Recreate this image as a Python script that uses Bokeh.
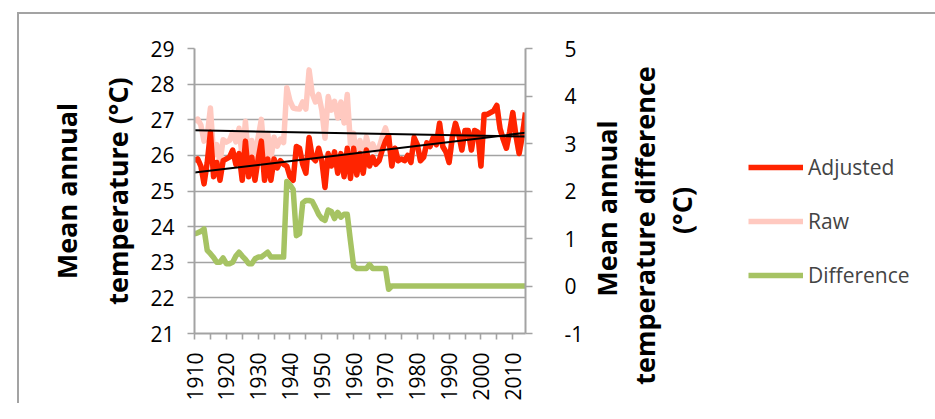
import math
import numpy as np
from bokeh.plotting import figure
from bokeh.layouts import row
from bokeh.models import Range1d, LinearAxis, FixedTicker, Legend, LegendItem
from bokeh.core.properties import value
from bokeh.embed import file_html
from bokeh.resources import INLINE

years = list(range(1910, 2015))

adjusted = [
    25.85, 25.9, 25.7, 25.2, 25.8, 26.65, 25.4, 25.8, 25.3, 25.85,
    25.9, 25.95, 26.15, 25.75, 26.05, 25.3, 26.4, 25.4, 25.95, 25.3,
    25.9, 26.4, 25.3, 25.9, 25.3, 25.9, 25.65, 25.85, 25.75, 25.7,
    25.4, 25.3, 26.25, 26.2, 25.75, 25.5, 26.5, 25.95, 25.85, 26.2,
    25.85, 25.1, 26.05, 25.7, 26.1, 25.5, 26.05, 25.4, 26.2, 25.35,
    26.2, 25.45, 26.05, 25.5, 26.15, 25.7, 25.95, 25.75, 25.85, 26.15,
    26.4, 26.55, 25.7, 26.2, 25.85, 25.9, 25.85, 26.0, 25.8, 26.5,
    26.3, 25.85, 25.95, 26.35, 26.25, 26.5, 26.3, 26.9, 26.25, 26.1,
    25.8, 26.5, 26.9, 26.6, 26.15, 26.7, 26.7, 26.15, 26.7, 26.65,
    25.7, 27.15, 27.15, 27.2, 27.25, 27.4, 26.75, 26.45, 26.2, 26.65,
    27.2, 26.55, 26.05, 26.55, 27.2,
]

raw = [
    26.95, 27.02, 26.85, 26.4, 26.55, 27.33, 26.0, 26.3, 25.8, 26.44,
    26.37, 26.42, 26.65, 26.38, 26.76, 25.93, 26.96, 25.87, 26.42, 25.87,
    26.51, 27.01, 25.96, 26.61, 25.91, 26.51, 26.26, 26.46, 26.36, 27.9,
    27.53, 27.33, 27.31, 27.3, 27.5, 27.3, 28.4, 27.73, 27.5, 27.71,
    27.27, 26.48, 27.65, 27.27, 27.52, 27.05, 27.5, 26.91, 27.71, 26.3,
    26.62, 25.82, 26.42, 25.87, 26.52, 26.15, 26.32, 26.12, 26.22, 26.52,
    26.77, 26.48, 25.7, 26.2, 25.85, 25.9, 25.85, 26.0, 25.8, 26.5,
    26.3, 25.85, 25.95, 26.35, 26.25, 26.5, 26.3, 26.9, 26.25, 26.1,
    25.8, 26.5, 26.9, 26.6, 26.15, 26.7, 26.7, 26.15, 26.7, 26.65,
    25.7, 27.15, 27.15, 27.2, 27.25, 27.4, 26.75, 26.45, 26.2, 26.65,
    27.2, 26.55, 26.05, 26.55, 27.2,
]

difference = [
    1.10, 1.12, 1.15, 1.20, 0.75, 0.68, 0.60, 0.50, 0.50, 0.59,
    0.47, 0.47, 0.50, 0.63, 0.71, 0.63, 0.56, 0.47, 0.47, 0.57,
    0.61, 0.61, 0.66, 0.71, 0.61, 0.61, 0.61, 0.61, 0.61, 2.20,
    2.13, 2.03, 1.06, 1.10, 1.75, 1.80, 1.80, 1.78, 1.65, 1.51,
    1.42, 1.38, 1.60, 1.57, 1.42, 1.55, 1.45, 1.51, 1.51, 0.95,
    0.42, 0.37, 0.37, 0.37, 0.37, 0.45, 0.37, 0.37, 0.37, 0.37,
    0.37, -0.07, 0.0, 0.0, 0.0, 0.0, 0.0, 0.0, 0.0, 0.0,
    0.0, 0.0, 0.0, 0.0, 0.0, 0.0, 0.0, 0.0, 0.0, 0.0,
    0.0, 0.0, 0.0, 0.0, 0.0, 0.0, 0.0, 0.0, 0.0, 0.0,
    0.0, 0.0, 0.0, 0.0, 0.0, 0.0, 0.0, 0.0, 0.0, 0.0,
    0.0, 0.0, 0.0, 0.0, 0.0,
]

x_label_years = [1910, 1920, 1930, 1940, 1950, 1960, 1970, 1980, 1990, 2000, 2010]
x_minor_years = [1915, 1925, 1935, 1945, 1955, 1965, 1975, 1985, 1995, 2005]
left_ticks = [21, 22, 23, 24, 25, 26, 27, 28, 29]
right_ticks = [-1, 0, 1, 2, 3, 4, 5]

series_names = ["Adjusted", "Raw", "Difference"]
left_title = "Mean annual\ntemperature (°C)"
right_title_lines = ["Mean annual", "temperature difference", "(°C)"]

FONT = "Open Sans"
GRID = "#A3A3A3"
RED = "#FF2400"
PINK = "#FFC9C0"
GREEN = "#A6C363"
LW = 5.5

# ---------------- main chart ----------------
p = figure(width=567, height=389, output_backend="svg", toolbar_location=None,
           x_range=Range1d(years[0], years[-1]), y_range=Range1d(left_ticks[0], left_ticks[-1]),
           min_border_left=175, min_border_right=59, min_border_top=34, min_border_bottom=67)
p.outline_line_color = None
p.background_fill_color = "white"
p.border_fill_color = "white"
p.extra_y_ranges = {"diff": Range1d(right_ticks[0], right_ticks[-1])}

p.xgrid.visible = False
p.ygrid.ticker = FixedTicker(ticks=left_ticks)
p.ygrid.grid_line_color = GRID
p.ygrid.grid_line_width = 1.6

r_raw = p.line(years, raw, line_color=PINK, line_width=LW, line_join="round")
r_adj = p.line(years, adjusted, line_color=RED, line_width=LW, line_join="round")
r_diff = p.line(years, difference, line_color=GREEN, line_width=LW, line_join="round",
                y_range_name="diff")

yrs = np.array(years, dtype=float)
ends = np.array([years[0], years[-1]], dtype=float)
ca = np.polyfit(yrs, np.array(adjusted), 1)
cr = np.polyfit(yrs, np.array(raw), 1)
p.line(ends, np.polyval(ca, ends), line_color="black", line_width=2)
p.line(ends, np.polyval(cr, ends), line_color="black", line_width=2)


def style_axis(ax):
    ax.axis_line_color = GRID
    ax.axis_line_width = 2
    ax.major_tick_line_color = GRID
    ax.major_tick_line_width = 1.6
    ax.major_tick_in = 0
    ax.major_tick_out = 7
    ax.minor_tick_line_color = None
    ax.major_label_text_font = FONT
    ax.major_label_text_font_size = "21px"
    ax.major_label_text_color = "black"
    ax.axis_label_text_font = FONT
    ax.axis_label_text_font_size = "27px"
    ax.axis_label_text_font_style = "bold"
    ax.axis_label_text_color = "black"
    ax.axis_label_text_line_height = 1.4


xa = p.xaxis[0]
style_axis(xa)
xa.ticker = FixedTicker(ticks=x_label_years, minor_ticks=x_minor_years)
xa.minor_tick_line_color = GRID
xa.minor_tick_line_width = 1.6
xa.minor_tick_in = 0
xa.minor_tick_out = 6
xa.major_tick_out = 6
xa.major_label_orientation = math.pi / 2
xa.major_label_standoff = 13

ya = p.yaxis[0]
style_axis(ya)
ya.ticker = FixedTicker(ticks=left_ticks)
ya.major_label_standoff = 13
ya.axis_label = left_title
ya.axis_label_standoff = 11

ra = LinearAxis(y_range_name="diff", ticker=FixedTicker(ticks=right_ticks))
style_axis(ra)
ra.major_label_standoff = 32
ra.major_label_overrides = {t: str(t) for t in right_ticks}
p.add_layout(ra, "right")

# ---------------- side panel: right-axis title + legend ----------------
SW, SH = 349, 389
s = figure(width=SW, height=SH, output_backend="svg", toolbar_location=None, title=None,
           x_range=Range1d(0, SW), y_range=Range1d(0, SH),
           x_axis_type=None, y_axis_type=None,
           min_border_left=0, min_border_right=0, min_border_top=0, min_border_bottom=0)
s.outline_line_color = None
s.background_fill_color = "white"
s.border_fill_color = "white"

for fig in (p, s):
    try:
        fig.frame_align = False
    except Exception:
        pass

title_x = [20, 58, 95]
title_y = [195, 178, 193]
s.text(x=title_x, y=title_y, text=right_title_lines, angle=math.pi / 2,
       text_font=value(FONT), text_font_size="27px", text_font_style="bold",
       text_color="black", text_align="center", text_baseline="middle")

# legend proxies: same series, outside the side panel's visible range
l_adj = s.line(years, adjusted, line_color=RED, line_width=LW)
l_raw = s.line(years, raw, line_color=PINK, line_width=LW)
l_diff = s.line(years, difference, line_color=GREEN, line_width=LW)

legend = Legend(items=[LegendItem(label=series_names[0], renderers=[l_adj]),
                       LegendItem(label=series_names[1], renderers=[l_raw]),
                       LegendItem(label=series_names[2], renderers=[l_diff])],
                location=(162, 114))
legend.label_text_font = FONT
legend.label_text_font_size = "21px"
legend.glyph_width = 55
legend.glyph_height = 20
legend.label_height = 20
legend.spacing = 26
legend.padding = 0
legend.margin = 0
legend.label_standoff = 5
legend.border_line_color = None
legend.background_fill_alpha = 0
s.add_layout(legend)

layout = row(p, s, styles={"border-top": "2px solid #A3A3A3",
                           "border-left": "2px solid #A3A3A3",
                           "margin-left": "17px", "margin-top": "12px"})

open("out.html", "w").write(file_html(layout, INLINE))
